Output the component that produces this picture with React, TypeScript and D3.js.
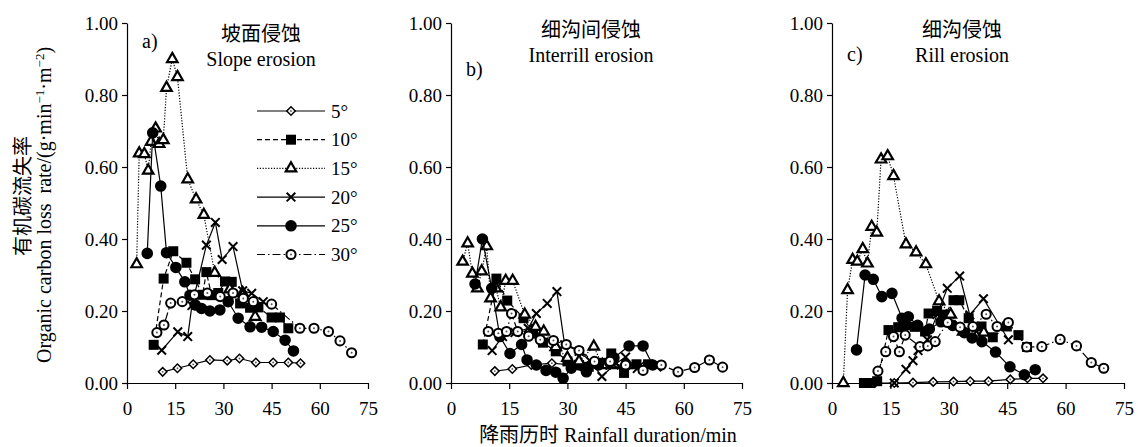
import React, { useEffect, useRef } from "react";
import * as d3 from "d3";

type Pt = [number, number];

const xTicks = [0, 15, 30, 45, 60, 75];
const yTicks = [0, 0.2, 0.4, 0.6, 0.8, 1.0];
const seriesNames = ["5°", "10°", "15°", "20°", "25°", "30°"];
const panelLabels = ["a)", "b)", "c)"];
const titlesCn = ["坡面侵蚀", "细沟间侵蚀", "细沟侵蚀"];
const titlesEn = ["Slope erosion", "Interrill erosion", "Rill erosion"];

// a) slope erosion
const slope5: Pt[] = [[11.1, 0.031], [15.7, 0.041], [20.6, 0.052], [25.8, 0.064], [31.2, 0.062], [35, 0.068], [40.1, 0.057], [45.5, 0.057], [50.2, 0.057], [54, 0.055]];
const slope10: Pt[] = [[8.3, 0.106], [11.4, 0.29], [14.4, 0.366], [18.5, 0.334], [21.2, 0.288], [23.5, 0.245], [24.7, 0.308], [26.3, 0.244], [28.4, 0.25], [30.5, 0.282], [32.6, 0.281], [35.2, 0.221], [38.3, 0.209], [40.9, 0.21], [45, 0.182], [47.6, 0.182], [50.2, 0.152]];
const slope15: Pt[] = [[3.0, 0.33], [3.8, 0.638], [5.4, 0.636], [6.6, 0.59], [7.5, 0.67], [8.9, 0.707], [10, 0.664], [11.3, 0.675], [12.3, 0.82], [14.1, 0.9], [15.7, 0.85], [18.9, 0.566], [21.5, 0.51], [23.9, 0.467], [27.3, 0.306], [32, 0.26], [36, 0.25], [39.9, 0.184]];
const slope20: Pt[] = [[10.8, 0.091], [15.8, 0.142], [18.9, 0.129], [20.2, 0.215], [24.7, 0.383], [27.5, 0.446], [29.6, 0.343], [33, 0.379], [36, 0.256], [38.8, 0.249], [42.4, 0.226]];
const slope25: Pt[] = [[6.3, 0.36], [8.0, 0.695], [10.5, 0.547], [12.3, 0.362], [15.2, 0.321], [18, 0.281], [19.6, 0.244], [21.2, 0.217], [23.2, 0.207], [25.8, 0.2], [28.9, 0.203], [31.5, 0.226], [34.6, 0.18], [38.3, 0.156], [41.9, 0.155], [45.5, 0.143], [49.2, 0.119], [51.8, 0.089]];
const slope30: Pt[] = [[9.3, 0.14], [11.5, 0.161], [13.6, 0.222], [17.2, 0.226], [21, 0.245], [25, 0.25], [29, 0.24], [33, 0.25], [36.2, 0.235], [39.3, 0.226], [45, 0.219], [53.8, 0.152], [58.2, 0.152], [62.7, 0.143], [66.3, 0.117], [69.9, 0.084]];

// b) interrill erosion
const inter5: Pt[] = [[11.3, 0.033], [15.8, 0.039], [20.7, 0.05], [26, 0.055], [31, 0.05], [35.5, 0.05], [40, 0.05], [45.5, 0.05], [50, 0.05], [54, 0.045]];
const inter10: Pt[] = [[8.2, 0.107], [11.7, 0.29], [14.5, 0.229], [18.7, 0.18], [21.2, 0.138], [23.7, 0.112], [27, 0.088], [30, 0.06], [33, 0.05], [35.5, 0.045], [38.8, 0.056], [41.3, 0.082], [44.6, 0.028], [47.8, 0.052], [50.8, 0.052]];
const inter15: Pt[] = [[3.0, 0.337], [4.3, 0.388], [5.5, 0.304], [6.8, 0.263], [7.9, 0.31], [9.2, 0.38], [10.2, 0.235], [11.6, 0.263], [12.8, 0.21], [14.1, 0.284], [15.9, 0.284], [19, 0.19], [21.8, 0.156], [23.9, 0.143], [27, 0.1], [30, 0.07], [33, 0.06], [36.8, 0.101], [39, 0.05], [42, 0.05], [45, 0.05]];
const inter20: Pt[] = [[10.6, 0.09], [13.3, 0.129], [16.5, 0.14], [19.9, 0.152], [22, 0.193], [24.8, 0.221], [27.3, 0.254], [29.3, 0.106], [33, 0.088], [36, 0.06], [38.9, 0.018], [42, 0.05], [45, 0.072], [48, 0.04], [51, 0.05]];
const inter25: Pt[] = [[6.2, 0.275], [8.1, 0.4], [10.5, 0.263], [12.6, 0.129], [15.2, 0.082], [18.2, 0.107], [19.6, 0.064], [22, 0.05], [24.5, 0.035], [27, 0.03], [28.9, 0.013], [31, 0.041], [34.9, 0.031], [38, 0.05], [42, 0.07], [45.9, 0.103], [49.5, 0.103], [52, 0.05]];
const inter30: Pt[] = [[9.6, 0.143], [12.2, 0.138], [14.3, 0.143], [15.6, 0.193], [17.2, 0.143], [20, 0.13], [23, 0.12], [26.4, 0.118], [29.7, 0.107], [33, 0.09], [37, 0.06], [41, 0.06], [45, 0.05], [49.5, 0.035], [54.2, 0.05], [58.5, 0.031], [62.8, 0.043], [66.6, 0.064], [70, 0.044]];

// c) rill erosion
const rill5: Pt[] = [[11, 0], [16, 0], [20.8, 0.001], [26, 0.003], [31.2, 0.004], [35.5, 0.005], [40.2, 0.005], [45.8, 0.01], [50.2, 0.013], [54.2, 0.013]];
const rill10: Pt[] = [[8.2, 0], [9.8, 0], [11.6, 0.005], [14.5, 0.147], [17, 0.155], [18.8, 0.16], [21.3, 0.156], [23.9, 0.143], [24.8, 0.193], [27, 0.2], [29, 0.19], [31.2, 0.23], [32.7, 0.23], [35.1, 0.18], [38.4, 0.157], [41.3, 0.127], [44.9, 0.157], [47.9, 0.133], [50.1, 0.1]];
const rill15: Pt[] = [[2.9, 0], [4.0, 0.258], [5.3, 0.342], [6.5, 0.337], [7.9, 0.372], [9.1, 0.332], [10.2, 0.434], [11.5, 0.418], [12.6, 0.621], [14.3, 0.63], [15.8, 0.575], [19, 0.385], [21.6, 0.363], [24.1, 0.33], [27.5, 0.227], [30.5, 0.19], [33.7, 0.143], [37.1, 0.129], [39, 0.14]];
const rill20: Pt[] = [[16, 0], [19, 0.038], [20.8, 0.062], [22.1, 0.09], [24.5, 0.12], [27, 0.19], [29.6, 0.263], [32.8, 0.297], [35.4, 0.189], [38.9, 0.234], [45.3, 0.12]];
const rill25: Pt[] = [[6.3, 0.092], [8.5, 0.3], [10.6, 0.288], [12.8, 0.24], [15.4, 0.249], [18, 0.18], [19.6, 0.184], [22, 0.16], [25, 0.15], [28, 0.17], [31, 0.16], [34, 0.14], [36, 0.125], [38.5, 0.115], [42, 0.086], [45.7, 0.045], [49.4, 0.023], [52.2, 0.037]];
const rill30: Pt[] = [[11.8, 0.033], [13.8, 0.087], [15.8, 0.129], [17.3, 0.087], [18.8, 0.133], [22.6, 0.101], [24.6, 0.103], [26.5, 0.115], [29.7, 0.168], [32.9, 0.155], [36.2, 0.157], [39.6, 0.191], [42.4, 0.157], [45.3, 0.168], [50, 0.1], [53.9, 0.101], [58.6, 0.121], [62.8, 0.103], [66.6, 0.057], [69.8, 0.041]];

const panelData = [
  [slope5, slope10, slope15, slope20, slope25, slope30],
  [inter5, inter10, inter15, inter20, inter25, inter30],
  [rill5, rill10, rill15, rill20, rill25, rill30],
];

const SERIF = "'Liberation Serif', 'Times New Roman', serif";
const CJK = "'Liberation Serif', 'Noto Sans CJK SC', serif";
const dashes = ["", "5,3", "1.2,1.6", "", "", "8,3,1.5,3"];

const drawMarker = (g: any, kind: number, cx: number, cy: number) => {
  const t = `translate(${cx},${cy})`;
  if (kind === 0) {
    g.append("path").attr("d", d3.symbol().type(d3.symbolSquare).size(36)())
      .attr("transform", t + " rotate(45)").attr("fill", "#fff").attr("stroke", "#000").attr("stroke-width", 1.5);
    g.append("circle").attr("cx", cx).attr("cy", cy).attr("r", 0.9).attr("fill", "#555");
  } else if (kind === 1) {
    g.append("path").attr("d", d3.symbol().type(d3.symbolSquare).size(100)())
      .attr("transform", t).attr("fill", "#000");
  } else if (kind === 2) {
    g.append("path").attr("d", d3.symbol().type(d3.symbolTriangle).size(48)())
      .attr("transform", t).attr("fill", "#fff").attr("stroke", "#000").attr("stroke-width", 2.2);
  } else if (kind === 3) {
    g.append("path").attr("d", "M-4.3,-4.3L4.3,4.3M-4.3,4.3L4.3,-4.3")
      .attr("transform", t).attr("fill", "none").attr("stroke", "#000").attr("stroke-width", 2);
  } else if (kind === 4) {
    g.append("path").attr("d", d3.symbol().type(d3.symbolCircle).size(105)())
      .attr("transform", t).attr("fill", "#000");
  } else {
    g.append("path").attr("d", d3.symbol().type(d3.symbolCircle).size(66)())
      .attr("transform", t).attr("fill", "#fff").attr("stroke", "#000").attr("stroke-width", 2);
    g.append("circle").attr("cx", cx).attr("cy", cy).attr("r", 1).attr("fill", "#555");
  }
};

export default function App() {
  const ref = useRef<SVGSVGElement>(null);

  useEffect(() => {
    const svg = d3.select(ref.current);
    svg.selectAll("*").remove();

    const y = d3.scaleLinear().domain([0, 1]).range([383, 23]);
    const lefts = [127, 451, 832];
    const rights = [368, 742, 1124];
    const titleX = [261, 591, 962];
    const cnY = [41, 37, 37];
    const enY = [66, 62, 62];
    const labY = [48, 76, 61];

    panelData.forEach((series, p) => {
      const x = d3.scaleLinear().domain([0, 75]).range([lefts[p], rights[p]]);
      const g = svg.append("g");

      const ya = g.append("g")
        .attr("transform", `translate(${lefts[p]},0)`)
        .call(d3.axisLeft(y).tickValues(yTicks).tickFormat(d3.format(".2f")).tickSize(5).tickSizeOuter(0).tickPadding(4));
      const xa = g.append("g")
        .attr("transform", "translate(0,383)")
        .call(d3.axisBottom(x).tickValues(xTicks).tickSize(6).tickSizeOuter(0).tickPadding(13));
      [ya, xa].forEach((a) => {
        a.selectAll("text").style("font-family", SERIF).style("font-size", "19px").attr("fill", "#000");
        a.selectAll("line, path").attr("stroke", "#000").attr("stroke-width", 1.2);
      });

      const line = d3.line<Pt>().x((d) => x(d[0])).y((d) => y(d[1]));
      series.forEach((pts, s) => {
        g.append("path").datum(pts).attr("d", line)
          .attr("fill", "none").attr("stroke", "#000").attr("stroke-width", 1.2)
          .attr("stroke-dasharray", dashes[s]);
        pts.forEach((d) => drawMarker(g, s, x(d[0]), y(d[1])));
      });

      g.append("text").attr("x", lefts[p] + 15).attr("y", labY[p]).text(panelLabels[p])
        .style("font-family", SERIF).style("font-size", "20px");
      g.append("text").attr("x", titleX[p]).attr("y", cnY[p]).attr("text-anchor", "middle").text(titlesCn[p])
        .style("font-family", CJK).style("font-size", "20px");
      g.append("text").attr("x", titleX[p]).attr("y", enY[p]).attr("text-anchor", "middle").text(titlesEn[p])
        .style("font-family", SERIF).style("font-size", "20px");
    });

    // legend in panel a
    const leg = svg.append("g");
    seriesNames.forEach((name, i) => {
      const ly = 111 + i * 28.7;
      leg.append("line").attr("x1", 257).attr("x2", 325).attr("y1", ly).attr("y2", ly)
        .attr("stroke", "#000").attr("stroke-width", 1.2).attr("stroke-dasharray", dashes[i]);
      drawMarker(leg, i, 291, ly);
      leg.append("text").attr("x", 331).attr("y", ly).attr("dy", "0.35em").text(name)
        .style("font-family", SERIF).style("font-size", "19px");
    });

    // y axis title
    svg.append("text").attr("transform", "translate(30,196) rotate(-90)").attr("text-anchor", "middle")
      .text("有机碳流失率").style("font-family", CJK).style("font-size", "20px");
    const en = svg.append("text").attr("transform", "translate(51,205) rotate(-90)").attr("text-anchor", "middle")
      .style("font-family", SERIF).style("font-size", "20px");
    en.append("tspan").text("Organic carbon loss\u00a0 rate/(g·min");
    en.append("tspan").attr("dy", -7).style("font-size", "13px").text("−1");
    en.append("tspan").attr("dy", 7).text("·m");
    en.append("tspan").attr("dy", -7).style("font-size", "13px").text("−2");
    en.append("tspan").attr("dy", 7).text(")");

    // x axis title
    svg.append("text").attr("x", 608).attr("y", 442).attr("text-anchor", "middle")
      .text("降雨历时 Rainfall duration/min").style("font-family", CJK).style("font-size", "20px");
  }, []);

  return (
    <svg ref={ref} width={1138} height={447}
      style={{ position: "absolute", left: 0, top: 0, background: "#fff" }} />
  );
}
